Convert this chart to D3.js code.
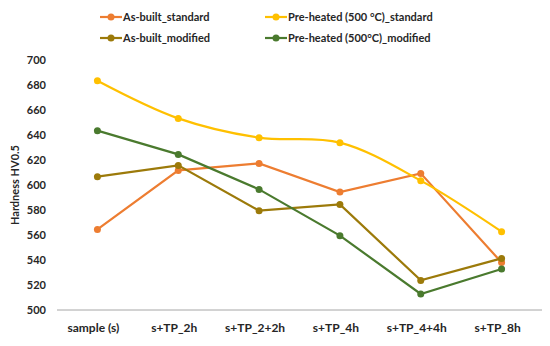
<!DOCTYPE html>
<html><head><meta charset="utf-8">
<script src="https://cdn.jsdelivr.net/npm/d3@7"></script>
<style>body{margin:0;background:#fff;} text{font-family:Lato, "Open Sans", sans-serif;font-weight:bold;fill:#262626;}</style>
</head><body>
<svg id="c" width="550" height="346"></svg>
<script>
const categories = ["sample (s)", "s+TP_2h", "s+TP_2+2h", "s+TP_4h", "s+TP_4+4h", "s+TP_8h"];
const asBuiltStandard = [564.5, 611.7, 617.3, 594.4, 609.3, 538];
const preHeatedStandard = [683.4, 653.3, 637.9, 633.9, 603.5, 562.7];
const asBuiltModified = [606.7, 615.7, 579.5, 584.5, 523.7, 541.3];
const preHeatedModified = [643.5, 624.5, 596.5, 559.5, 512.8, 532.8];
const yTicks = [500, 520, 540, 560, 580, 600, 620, 640, 660, 680, 700];
const seriesNames = ["As-built_standard", "Pre-heated (500 °C)_standard", "As-built_modified", "Pre-heated (500°C)_modified"];
const colors = ["#ED7D31", "#FFC000", "#9C7A0A", "#4A7A2E"];

const series = [
  {name: seriesNames[0], values: asBuiltStandard, color: colors[0], smooth: false},
  {name: seriesNames[1], values: preHeatedStandard, color: colors[1], smooth: true},
  {name: seriesNames[2], values: asBuiltModified, color: colors[2], smooth: false},
  {name: seriesNames[3], values: preHeatedModified, color: colors[3], smooth: false}
];

const svg = d3.select("#c");
const x = d3.scaleBand().domain(categories).range([57, 542]);
const y = d3.scaleLinear().domain([500, 700]).range([310, 60]);

// y tick labels
svg.append("g").selectAll("text").data(yTicks).join("text")
  .attr("x", 46).attr("y", d => y(d)).attr("dy", "0.35em")
  .attr("text-anchor", "end").attr("font-size", 11).text(d => d);

// x axis line
svg.append("line").attr("x1", 57).attr("x2", 542).attr("y1", 310).attr("y2", 310)
  .attr("stroke", "#a6a6a6").attr("stroke-width", 1);

svg.append("g").selectAll("text").data(categories).join("text")
  .attr("x", d => x(d) + x.bandwidth() / 2 - 4).attr("y", 332)
  .attr("text-anchor", "middle").attr("font-size", 12).text(d => d);

// y title
svg.append("text").attr("transform", "translate(19,185) rotate(-90)")
  .attr("text-anchor", "middle").attr("font-size", 11).text("Hardness HV0.5");

const cx = (d, i) => x(categories[i]) + x.bandwidth() / 2;
series.forEach(s => {
  const line = d3.line().x((d, i) => cx(d, i)).y(d => y(d))
    .curve(s.smooth ? d3.curveCatmullRom.alpha(0.5) : d3.curveLinear);
  svg.append("path").datum(s.values).attr("d", line)
    .attr("fill", "none").attr("stroke", s.color).attr("stroke-width", 2.2);
  svg.append("g").selectAll("circle").data(s.values).join("circle")
    .attr("cx", (d, i) => cx(d, i)).attr("cy", d => y(d)).attr("r", 3.5)
    .attr("fill", s.color);
});

// legend
const legPos = [[100, 17], [265, 17], [100, 38], [265, 38]];
series.forEach((s, i) => {
  const [lx, ly] = legPos[i];
  const g = svg.append("g");
  g.append("line").attr("x1", lx).attr("x2", lx + 22).attr("y1", ly).attr("y2", ly)
    .attr("stroke", s.color).attr("stroke-width", 2.2);
  g.append("circle").attr("cx", lx + 11).attr("cy", ly).attr("r", 3.5).attr("fill", s.color);
  g.append("text").attr("x", lx + 23).attr("y", ly).attr("dy", "0.35em")
    .attr("font-size", 11).text(s.name);
});
</script>
</body></html>
